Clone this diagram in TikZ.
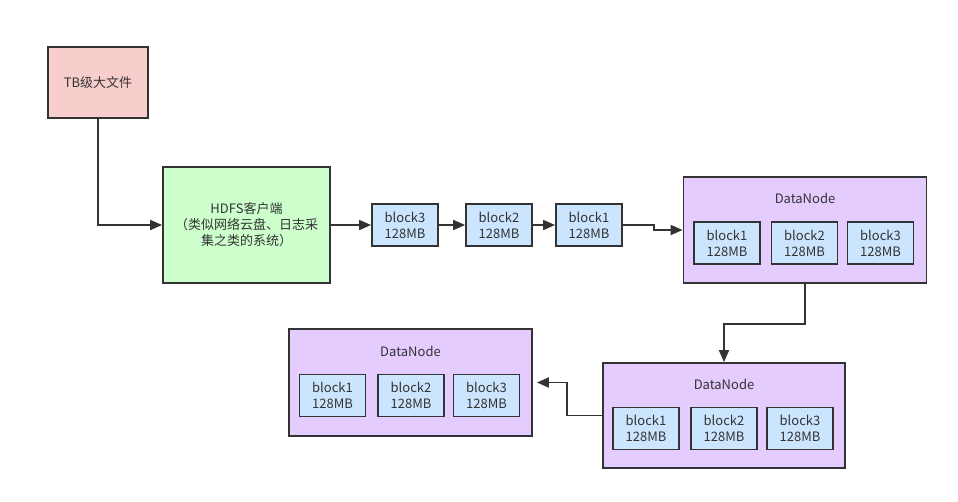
\documentclass[tikz,border=0pt]{standalone}
\usepackage{fontspec}
\setmainfont{Noto Sans CJK SC}
\usetikzlibrary{arrows.meta}
\definecolor{filepink}{HTML}{F8CECC}
\definecolor{clientgreen}{HTML}{CCFFCC}
\definecolor{nodepurple}{HTML}{E5CCFF}
\definecolor{blockblue}{HTML}{CCE5FF}
\definecolor{edgegray}{HTML}{333333}
\begin{document}
\begin{tikzpicture}[x=1pt,y=-1pt]

    \tikzset{
      box/.style={
        draw=edgegray,
        line width=1.8pt,
        inner sep=2pt,
        align=center,
        text=edgegray,
        font=\fontsize{13}{16}\selectfont,
      },
      blockbox/.style={
        box,
        fill=blockblue,
        minimum width=66pt,
        minimum height=42pt,
      },
      datanode/.style={
        box,
        fill=nodepurple,
        minimum width=243pt,
        minimum height=106pt,
      },
      nodetitle/.style={
        text=edgegray,
        font=\fontsize{13}{16}\selectfont,
      },
      flow/.style={
        draw=edgegray,
        line width=1.8pt,
        -{Triangle[length=12pt,width=10pt]},
      },
    }
    \useasboundingbox (0,0) rectangle (958,501);

	\node[box, fill=filepink, minimum width=100pt, minimum height=71pt] (tb) at (98,82.5) {TB级大文件};
	\node[box, fill=clientgreen, minimum width=167pt, minimum height=116pt] (hdfs) at (246.5,225) {HDFS客户端\\（类似网络云盘、日志采\\集之类的系统）};
	\draw[flow] (tb.south) |- (hdfs.west);

	\node[blockbox] (up3) at (405,225) {block3\\128MB};
	\node[blockbox] (up2) at (499,225) {block2\\128MB};
	\node[blockbox] (up1) at (589,225) {block1\\128MB};
	\draw[flow] (hdfs.east) -- (up3.west);
	\draw[flow] (up3.east) -- (up2.west);
	\draw[flow] (up2.east) -- (up1.west);

	\node[datanode] (dn1) at (805,230) {};
	\node[nodetitle] (dn1t) at (805,198) {DataNode};
	\node[blockbox] (dn1b1) at (727,243) {block1\\128MB};
	\node[blockbox] (dn1b2) at (804.5,243) {block2\\128MB};
	\node[blockbox] (dn1b3) at (880.5,243) {block3\\128MB};
	\draw[flow] (up1.east) -- ++(31,0) |- (dn1.west);

	\node[datanode, minimum width=242pt, minimum height=105pt] (dn2) at (724,415.5) {};
	\node[nodetitle] (dn2t) at (724,384) {DataNode};
	\node[blockbox] (dn2b1) at (646,428.5) {block1\\128MB};
	\node[blockbox] (dn2b2) at (724,428.5) {block2\\128MB};
	\node[blockbox] (dn2b3) at (800,428.5) {block3\\128MB};
	\draw[flow] (dn1.south) -- ++(0,40) -| (dn2.north);

	\node[datanode, minimum height=107pt] (dn3) at (410.5,382.5) {};
	\node[nodetitle] (dn3t) at (410.5,351) {DataNode};
	\node[blockbox] (dn3b1) at (332.5,395.5) {block1\\128MB};
	\node[blockbox] (dn3b2) at (411,395.5) {block2\\128MB};
	\node[blockbox] (dn3b3) at (486.5,395.5) {block3\\128MB};
	\draw[flow, shorten >=4pt] (dn2.west) -- ++(-35,0) |- (dn3.east);

\end{tikzpicture}
\end{document}
